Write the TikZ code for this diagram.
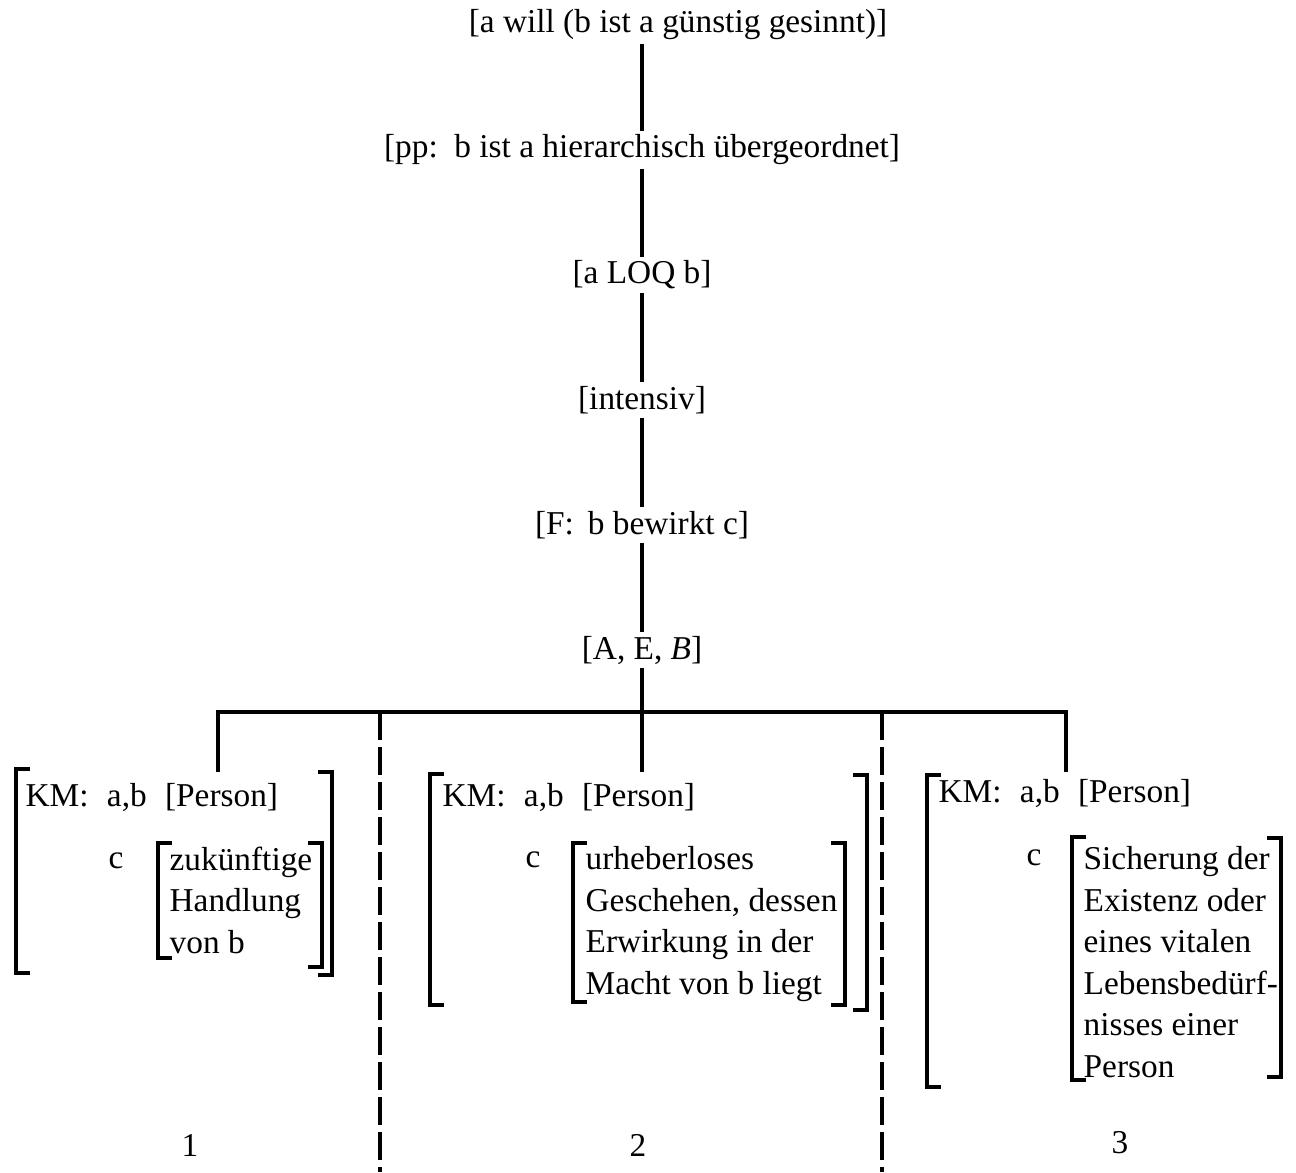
\documentclass[tikz,border=0pt]{standalone}
\usepackage{fontspec}
\setmainfont{Liberation Serif}
\usetikzlibrary{trees,calc}

\tikzset{
    lbl/.style = {font=\fontsize{10}{12.45}\selectfont, inner sep=1pt},
    txt/.style = {font=\fontsize{10}{12.45}\selectfont, inner sep=0pt, align=left},
    brk/.style = {line width=0.95pt},
    cutline/.style = {line width=1pt, dash pattern=on 8.4pt off 2.1pt}
}
% open and close brackets: x, top, bottom
\newcommand{\openbrk}[3]{\draw[brk] (#1+14,#2) -- (#1,#2) -- (#1,#3) -- (#1+14,#3);}
\newcommand{\closebrk}[3]{\draw[brk] (#1-14,#2) -- (#1,#2) -- (#1,#3) -- (#1-14,#3);}

\begin{document}
\begin{tikzpicture}[x=0.3pt, y=0.3pt,
            level distance=37.5pt,
            level 1/.style={edge from parent path={(\tikzchildnode.north) -- (\tikzchildnode.north |- \tikzparentnode.south)}},
            level 6/.style={level distance=36.6pt, sibling distance=127.2pt,
                edge from parent path={(\tikzchildnode) -- ++(0,60) -| (\tikzparentnode.south)}},
            edge from parent/.style={draw, line width=1pt}
            ]
            \useasboundingbox (0,0) rectangle (1296,-1172);
            \node[lbl] (will) at (678,-25) {[a will (b ist a günstig gesinnt)]}
                child[xshift=-10.8pt] {node[lbl] (pp) {[pp:\, b ist a hierarchisch übergeordnet]}
                    child {node[lbl] (loq) {[a LOQ b]}
                        child {node[lbl] (intens) {[intensiv]}
                            child {node[lbl] (fbc) {[F:\, b bewirkt c]}
                                child {node[lbl] (aeb) {[A, E, \textit{B}]}
                                    child {coordinate (top1)}
                                    child {coordinate (top2)}
                                    child {coordinate (top3)}
                                }
                            }
                        }
                    }
                };

            % dashed separators
            \coordinate (cut1) at (380,-712);
            \coordinate (cut1e) at (380,-1172);
            \coordinate (cut2) at (882,-712);
            \coordinate (cut2e) at (882,-1172);
            \draw[cutline] (cut1) -- (cut1e);
            \draw[cutline] (cut2) -- (cut2e);

            % case 1
            \node[txt, anchor=west] (km1) at (25,-797) {KM:\hspace{0.55em}a,b\hspace{0.55em}[Person]};
            \node[txt, anchor=west] (c1) at (108,-861) {c};
            \node[txt, anchor=north west] (in1) at (169,-846) {zukünftige\\Handlung\\von b};
            \openbrk{16}{-769}{-973}
            \closebrk{332}{-772}{-975}
            \openbrk{158}{-843}{-958}
            \closebrk{322}{-843}{-967}
            \node[lbl] (n1) at (190,-1145) {1};

            % case 2
            \node[txt, anchor=west] (km2) at (442,-797) {KM:\hspace{0.55em}a,b\hspace{0.55em}[Person]};
            \node[txt, anchor=west] (c2) at (525,-860) {c};
            \node[txt, anchor=north west] (in2) at (585,-846) {urheberloses\\Geschehen, dessen\\Erwirkung in der\\Macht von b liegt};
            \openbrk{430}{-774}{-1005}
            \closebrk{867}{-775}{-1010}
            \openbrk{573}{-843}{-1002}
            \closebrk{845}{-843}{-1005}
            \node[lbl] (n2) at (638,-1145) {2};

            % case 3
            \node[txt, anchor=west] (km3) at (938,-793) {KM:\hspace{0.55em}a,b\hspace{0.55em}[Person]};
            \node[txt, anchor=west] (c3) at (1026,-858) {c};
            \node[txt, anchor=north west] (in3) at (1083,-846) {Sicherung der\\Existenz oder\\eines vitalen\\Lebensbedürf-\\nisses einer\\Person};
            \openbrk{927}{-775}{-1087}
            \openbrk{1072}{-837}{-1080}
            \closebrk{1281}{-838}{-1077}
            \node[lbl] (n3) at (1120,-1143) {3};
        \end{tikzpicture}
\end{document}
